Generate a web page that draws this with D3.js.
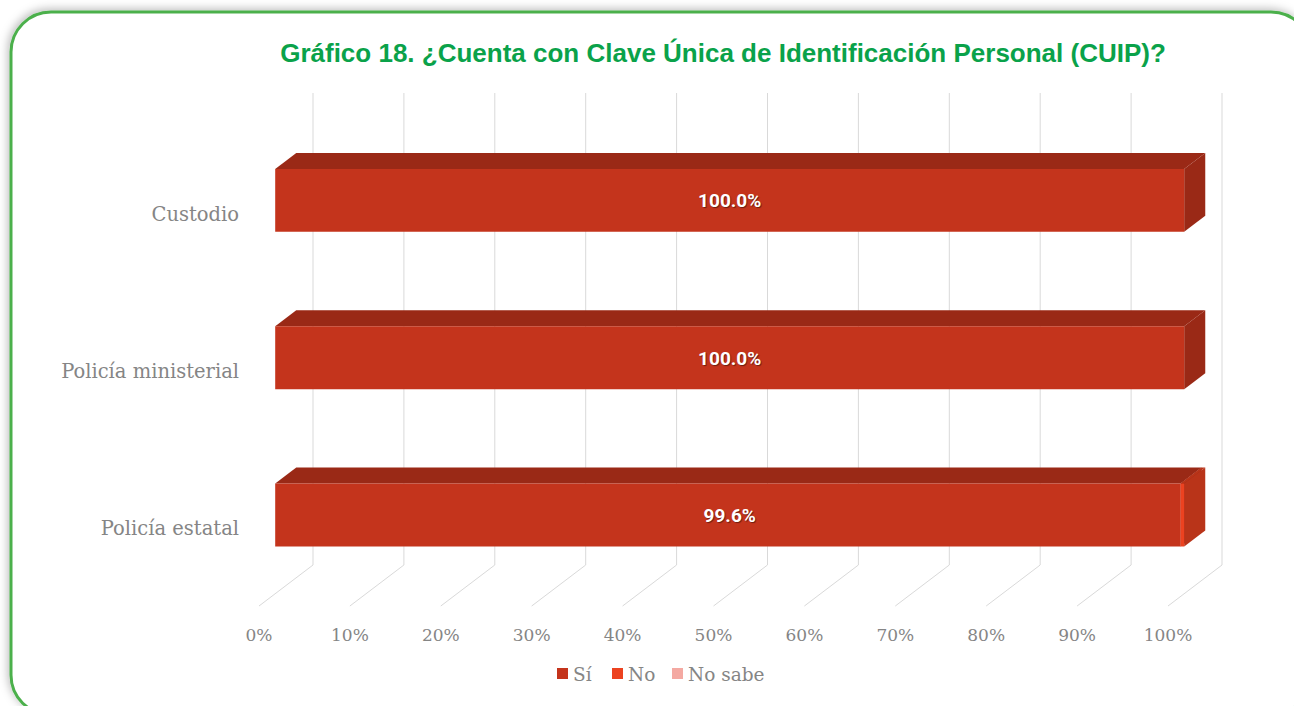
<!doctype html>
<html>
<head>
  <meta charset="utf-8">
  <title>Gráfico 18</title>
  <script src="https://d3js.org/d3.v7.min.js"></script>
  <style>
    body { margin: 0; background: #fff; }
    text { font-family: 'Roboto', 'Liberation Sans', sans-serif; }
    .cat, .tick-lbl, .legend-lbl { font-family: 'DejaVu Serif', serif; fill: #858585; }
  </style>
</head>
<body>
  <svg id="chart" width="1294" height="706"></svg>
  <script>
    // data
    var categories = ["Custodio", "Policía ministerial", "Policía estatal"];
    var seriesNames = ["Sí", "No", "No sabe"];
    var si = [100.0, 100.0, 99.6];
    var no = [0.0, 0.0, 0.4];
    var noSabe = [0.0, 0.0, 0.0];
    var ticks = [0, 10, 20, 30, 40, 50, 60, 70, 80, 90, 100];
    var colors = ["#c4341c", "#ec4220", "#f4a9a2"];

    var svg = d3.select("#chart");

    // frame
    var defs = svg.append("defs");
    var f = defs.append("filter").attr("id", "shadow")
      .attr("x", "-5%").attr("y", "-5%").attr("width", "110%").attr("height", "110%");
    f.append("feDropShadow").attr("dx", -2).attr("dy", -2).attr("stdDeviation", 4)
      .attr("flood-color", "#000").attr("flood-opacity", 0.25);
    svg.append("rect")
      .attr("x", 11).attr("y", 12).attr("width", 1300).attr("height", 703)
      .attr("rx", 40).attr("ry", 40)
      .attr("fill", "#fff").attr("stroke", "#4cb04c").attr("stroke-width", 3)
      .attr("filter", "url(#shadow)");

    svg.append("text")
      .attr("x", 723).attr("y", 62)
      .attr("text-anchor", "middle")
      .style("font-family", "'Liberation Sans', Arial, sans-serif")
      .style("font-weight", "bold").style("font-size", "26px")
      .attr("fill", "#0aa24a")
      .text("Gráfico 18. ¿Cuenta con Clave Única de Identificación Personal (CUIP)?");

    // 3D geometry: back wall plus depth offset
    var depthDx = -54, depthDy = 41;
    var wallTop = 93, wallBottom = 565;
    var x = d3.scaleLinear().domain([0, 100]).range([313, 1222]);
    var y = d3.scaleBand().domain(categories).range([wallTop, wallBottom]).paddingInner(0.6).paddingOuter(0.3);
    var barFront = 0.70, barBack = 0.31;

    function proj(v, py, d) { return [x(v) + depthDx * d, py + depthDy * d]; }

    // gridlines: vertical on back wall, diagonal on floor
    var grid = svg.append("g").attr("stroke", "#d9d9d9").attr("stroke-width", 1).attr("fill", "none");
    ticks.forEach(function(t) {
      var a = proj(t, wallTop, 0), b = proj(t, wallBottom, 0), c = proj(t, wallBottom, 1);
      grid.append("path").attr("d", "M" + a + "L" + b + "L" + c);
    });

    // tick labels
    svg.append("g").selectAll("text").data(ticks).join("text")
      .attr("class", "tick-lbl")
      .attr("x", function(d) { return proj(d, wallBottom, 1)[0]; })
      .attr("y", wallBottom + depthDy + 35)
      .attr("text-anchor", "middle")
      .style("font-size", "17px")
      .text(function(d) { return d + "%"; });

    // category labels
    svg.append("g").selectAll("text").data(categories).join("text")
      .attr("class", "cat")
      .attr("x", proj(0, 0, 1)[0] - 20)
      .attr("y", function(d) { return y(d) + y.bandwidth() / 2 + depthDy + 8; })
      .attr("text-anchor", "end")
      .style("font-size", "19.5px")
      .text(function(d) { return d; });

    // stacked boxes
    var series = [si, no, noSabe];
    var bars = svg.append("g");
    categories.forEach(function(cat, i) {
      var start = 0;
      series.forEach(function(vals, s) {
        var v = vals[i];
        if (v <= 0) return;
        var x0 = start, x1 = start + v;
        start = x1;
        var top = y(cat), bot = y(cat) + y.bandwidth();
        var col = d3.color(colors[s]);
        var shade = col.darker(0.68);
        var ftl = proj(x0, top, barFront), ftr = proj(x1, top, barFront),
            fbr = proj(x1, bot, barFront), fbl = proj(x0, bot, barFront);
        var btl = proj(x0, top, barBack), btr = proj(x1, top, barBack),
            bbr = proj(x1, bot, barBack);
        bars.append("path").attr("fill", shade)
          .attr("d", "M" + ftl + "L" + btl + "L" + btr + "L" + ftr + "Z");
        bars.append("path").attr("fill", shade)
          .attr("d", "M" + ftr + "L" + btr + "L" + bbr + "L" + fbr + "Z");
        bars.append("path").attr("fill", col)
          .attr("d", "M" + ftl + "L" + ftr + "L" + fbr + "L" + fbl + "Z");
      });
    });

    // data labels
    svg.append("g").selectAll("text").data(categories).join("text")
      .attr("x", function(d, i) { return (proj(0, 0, barFront)[0] + proj(100, 0, barFront)[0]) / 2; })
      .attr("y", function(d) { return y(d) + y.bandwidth() / 2 + depthDy * barFront + 7; })
      .attr("text-anchor", "middle")
      .attr("fill", "#fff")
      .style("font-weight", "bold").style("font-size", "19px")
      .style("text-shadow", "1px 1px 1px rgba(0,0,0,0.45)")
      .text(function(d, i) { return si[i].toFixed(1) + "%"; });

    // legend
    var legendX = [557, 612, 672];
    var lg = svg.append("g");
    seriesNames.forEach(function(name, s) {
      lg.append("rect").attr("x", legendX[s]).attr("y", 668).attr("width", 11).attr("height", 11)
        .attr("fill", colors[s]);
      lg.append("text").attr("class", "legend-lbl")
        .attr("x", legendX[s] + 16).attr("y", 681)
        .style("font-size", "18.5px")
        .text(name);
    });
  </script>
</body>
</html>
